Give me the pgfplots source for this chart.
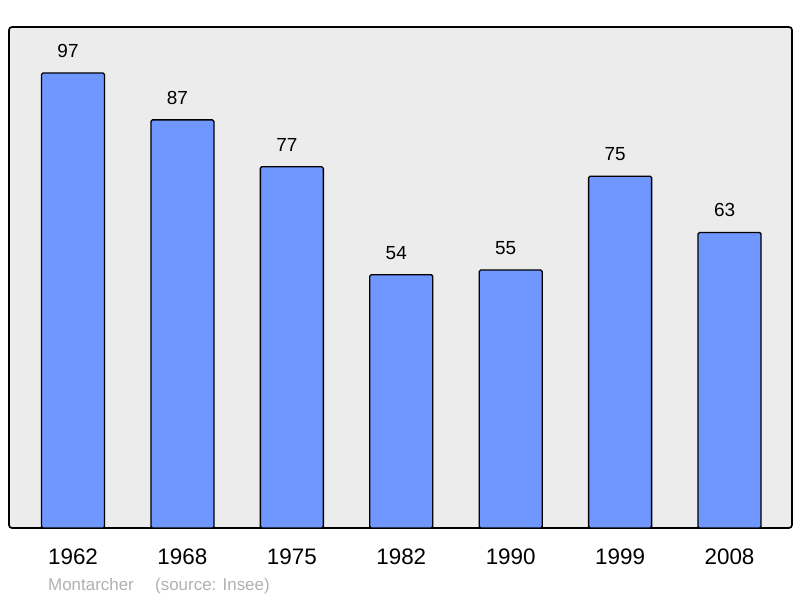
\documentclass[border=0pt]{standalone}
\usepackage{pgfplots}
\pgfplotsset{compat=1.18}
\usepackage{fontspec}
\setmainfont{Liberation Sans}
\definecolor{barblue}{HTML}{7096FF}
\definecolor{bg}{HTML}{ECECEC}
\definecolor{srcgray}{HTML}{B0B0B0}
\begin{document}
\begin{tikzpicture}[x=1bp,y=1bp]
\path (0,0) rectangle (800,598);
\begin{axis}[
  at={(9bp,70bp)}, anchor=south west,
  scale only axis, width=783bp, height=501bp,
  xmin=-0.585, xmax=6.571, ymin=0, ymax=106.8,
  /pgf/number format/assume math mode=true,
  axis line style={draw=none},
  axis background/.style={fill=bg, draw=black, line width=1.7bp, rounded corners=3bp},
  xtick={0,1,2,3,4,5,6},
  xticklabels={1962,1968,1975,1982,1990,1999,2008},
  ytick=\empty,
  major tick length=0pt,
  xticklabel style={font=\fontsize{22.5}{27}\selectfont, anchor=base, yshift=-37bp, inner sep=0pt},
  nodes near coords,
  nodes near coords style={font=\fontsize{19}{23}\selectfont, anchor=center, yshift=22bp, xshift=-5bp},
  clip=false,
]
\addplot[ybar, bar width=63bp, fill=barblue, draw=black, line width=1.3bp, rounded corners=1.5bp]
  coordinates {(0,97) (1,87) (2,77) (3,54) (4,55) (5,75) (6,63)};
\end{axis}
\node[anchor=base west, inner sep=0pt, text=srcgray, font=\fontsize{17}{20}\selectfont] at (48,7.3) {Montarcher};
\node[anchor=base west, inner sep=0pt, text=srcgray, font=\fontsize{17}{20}\selectfont] at (155,7.3) {(source: Insee)};
\end{tikzpicture}
\end{document}
